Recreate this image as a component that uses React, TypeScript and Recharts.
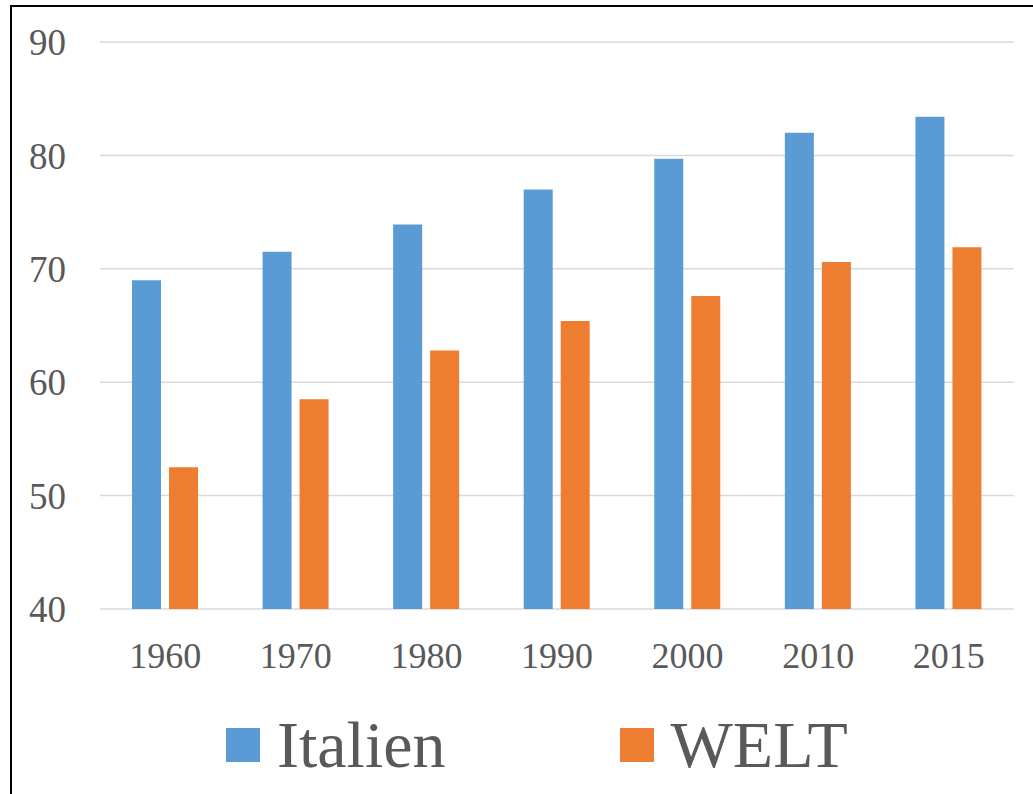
import { Bar, BarChart, CartesianGrid, Legend, XAxis, YAxis } from "recharts";

const years = ["1960", "1970", "1980", "1990", "2000", "2010", "2015"];
const italien = [69.0, 71.5, 73.9, 77.0, 79.7, 82.0, 83.4];
const welt = [52.5, 58.5, 62.8, 65.4, 67.6, 70.6, 71.9];
const yTicks = [40, 50, 60, 70, 80, 90];

const data = years.map((year, i) => ({ year, Italien: italien[i], WELT: welt[i] }));

const FONT = "'Liberation Serif', 'DejaVu Serif', serif";
const TEXT = "#595959";
const BLUE = "#5B9BD5";
const ORANGE = "#ED7D31";

const LegendContent = (props: any) => {
  const items = props.payload || [];
  return (
    <div style={{ display: "flex", paddingLeft: 226, gap: 174 }}>
      {items.map((item: any) => (
        <div key={item.value} style={{ display: "flex", alignItems: "center", height: 66 }}>
          <div style={{ width: 34, height: 34, background: item.color, marginRight: 17 }} />
          <span style={{ fontFamily: FONT, fontSize: 66, lineHeight: "66px", color: TEXT }}>
            {item.value}
          </span>
        </div>
      ))}
    </div>
  );
};

export default function App() {
  return (
    <div
      style={{
        position: "absolute",
        left: 0,
        top: 0,
        width: 1033,
        height: 794,
        overflow: "hidden",
        background: "#fff",
      }}
    >
      <div
        style={{
          position: "absolute",
          left: 10,
          top: 5,
          width: 1100,
          height: 900,
          border: "2px solid #000",
        }}
      />
      <div style={{ position: "absolute", left: 0, top: 0 }}>
        <BarChart
          width={1033}
          height={794}
          data={data}
          margin={{ top: 42, right: 19, left: 0, bottom: 59 }}
          barSize={29}
          barGap={8}
        >
          <CartesianGrid vertical={false} stroke="#d9d9d9" strokeWidth={1.5} />
          <XAxis
            dataKey="year"
            axisLine={false}
            tickLine={false}
            tickSize={0}
            tickMargin={33}
            height={60}
            tick={{ fontFamily: FONT, fontSize: 36, fill: TEXT }}
          />
          <YAxis
            domain={[40, 90]}
            ticks={yTicks}
            width={100}
            axisLine={false}
            tickLine={false}
            tickSize={0}
            tickMargin={34}
            tick={{ fontFamily: FONT, fontSize: 37, fill: TEXT }}
          />
          <Legend
            content={<LegendContent />}
            wrapperStyle={{ position: "absolute", top: 712, left: 0, bottom: "auto", width: 1033 }}
          />
          <Bar dataKey="Italien" fill={BLUE} isAnimationActive={false} />
          <Bar dataKey="WELT" fill={ORANGE} isAnimationActive={false} />
        </BarChart>
      </div>
    </div>
  );
}
